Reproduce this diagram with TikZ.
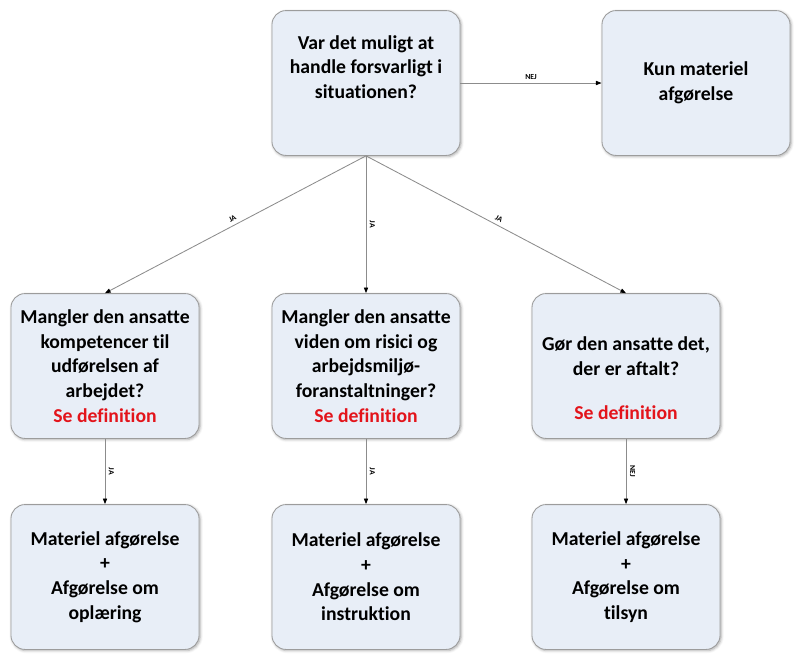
\documentclass[tikz,border=0pt]{standalone}
\usepackage{fontspec}
\setmainfont{Carlito}[Ligatures=NoCommon]
\usetikzlibrary{arrows.meta,shadows.blur}
\definecolor{cFill}{HTML}{E8EEF7}
\definecolor{cEdge}{HTML}{9C9C9C}
\definecolor{cLine}{HTML}{8C8C8C}
\definecolor{cRed}{HTML}{E3141B}
\tikzset{
  box/.style = {rectangle, rounded corners=10pt, draw=cEdge, fill=cFill, line width=0.6pt,
                minimum width=4.7cm, minimum height=3.62cm, align=center,
                font=\fontsize{14}{17.5}\selectfont\bfseries,
                blur shadow={shadow xshift=0.8pt, shadow yshift=-0.8pt,
                             shadow blur steps=4, shadow opacity=35}},
  fl/.style  = {-{Triangle[length=4pt, width=3pt, color=black]}, draw=cLine, line width=0.6pt},
  lab/.style = {font=\fontsize{5.5}{6}\selectfont\bfseries, sloped, above, inner sep=2.5pt},
}
\newcommand{\sedef}{\textcolor{cRed}{Se definition}}

\begin{document}
\begin{tikzpicture}[x=0.025cm, y=-0.025cm]
  \useasboundingbox (0,0) rectangle (800,658);

  % question + outcome on top
  \node[box, text depth=23pt] (q0) at (366,83) {Var det muligt at\\handle forsvarligt i\\situationen?};
  \node[box] (kun) at (696,83) {Kun materiel\\afgørelse};

  % three questions
  \node[box] (q1) at (105,366) {Mangler den ansatte\\kompetencer til\\udførelsen af\\arbejdet?\\\sedef};
  \node[box] (q2) at (366,366) {Mangler den ansatte\\viden om risici og\\arbejdsmiljø-\\foranstaltninger?\\\sedef};
  \node[box] (q3) at (626,366) {\mbox{}\\[10pt]Gør den ansatte det,\\der er aftalt?\\[14pt]\sedef};

  % decisions
  \node[box] (d1) at (105,577) {Materiel afgørelse\\+\\Afgørelse om\\oplæring};
  \node[box] (d2) at (366,577) {Materiel afgørelse\\+\\Afgørelse om\\instruktion};
  \node[box] (d3) at (626,577) {Materiel afgørelse\\+\\Afgørelse om\\tilsyn};

  \draw[fl] (q0.east) -- node[lab, sloped=false]{NEJ} (kun.west);
  \draw[fl] (q0.south) -- node[lab]{JA} (q1.north);
  \draw[fl] (q0.south) -- node[lab]{JA} (q2.north);
  \draw[fl] (q0.south) -- node[lab]{JA} (q3.north);
  \draw[fl] (q1.south) -- node[lab]{JA} (d1.north);
  \draw[fl] (q2.south) -- node[lab]{JA} (d2.north);
  \draw[fl] (q3.south) -- node[lab]{NEJ} (d3.north);
\end{tikzpicture}
\end{document}
